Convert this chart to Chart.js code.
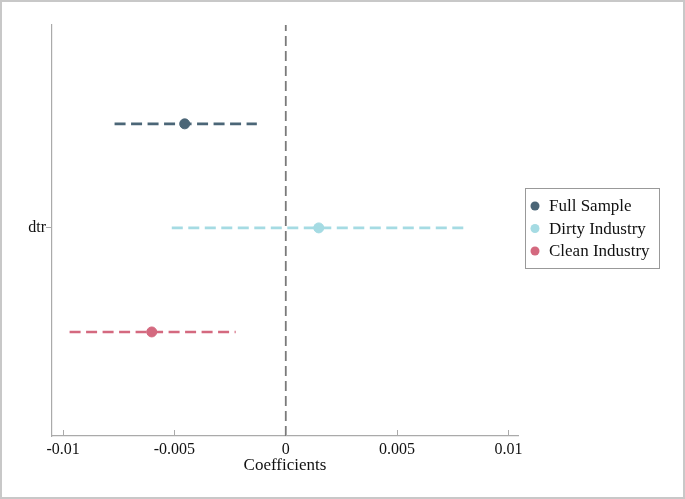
<!DOCTYPE html>
<html>
<head>
<meta charset="utf-8">
<script src="https://cdn.jsdelivr.net/npm/chart.js@4/dist/chart.umd.min.js"></script>
<style>
  body { margin: 0; background: #fff; }
  #wrap { width: 685px; height: 499px; position: relative; }
</style>
</head>
<body>
<div id="wrap"><canvas id="coefChart"></canvas></div>
<script>
// data
var seriesNames = ["Full Sample", "Dirty Industry", "Clean Industry"];
var seriesColors = ["#4b6677", "#a5dbe3", "#d4697f"];
var rowPos = [1, 0, -1];               // vertical slot of each estimate around "dtr"
var coef = [-0.00454, 0.00148, -0.00602];
var ciLow = [-0.00769, -0.00512, -0.00971];
var ciHigh = [-0.00130, 0.00804, -0.00225];
var xTicks = [-0.01, -0.005, 0, 0.005, 0.01];
var xTickLabels = ["-0.01", "-0.005", "0", "0.005", "0.01"];
var yLabel = "dtr";

var serif = "'Liberation Serif', 'DejaVu Serif', serif";

// datasets: dashed CI line + dot for each series
var datasets = [];
// zero reference line
datasets.push({
    type: 'line',
    label: '_zero',
    data: [{ x: 0, y: -2 }, { x: 0, y: 1.95 }],
    borderColor: "#7a7a7a",
    borderWidth: 1.8,
    borderDash: [10, 5],
    pointRadius: 0,
    order: 5
});
for (var i = 0; i < seriesNames.length; i++) {
    datasets.push({
        type: 'line',
        label: '_ci' + i,
        data: [{ x: ciLow[i], y: rowPos[i] }, { x: ciHigh[i], y: rowPos[i] }],
        borderColor: seriesColors[i],
        borderWidth: 2.6,
        borderDash: [11, 5.5],
        pointRadius: 0,
        order: 2
    });
    datasets.push({
        type: 'scatter',
        label: seriesNames[i],
        data: [{ x: coef[i], y: rowPos[i] }],
        backgroundColor: seriesColors[i],
        borderColor: seriesColors[i],
        pointRadius: 5,
        order: 1
    });
}

// legend box, frame and inward x ticks
var extras = {
    id: 'extras',
    afterDraw: function (chart) {
        var c = chart.ctx;
        var xs = chart.scales.x;
        var area = chart.chartArea;
        c.save();
        // outer frame
        c.strokeStyle = "#c8c8c8";
        c.lineWidth = 2;
        c.strokeRect(1, 1, 683, 497);
        // inward tick marks on x axis
        c.strokeStyle = "#aaaaaa";
        c.lineWidth = 1;
        xTicks.forEach(function (v) {
            var px = Math.round(xs.getPixelForValue(v)) + 0.5;
            c.beginPath();
            c.moveTo(px, area.bottom);
            c.lineTo(px, area.bottom - 6);
            c.stroke();
        });
        // legend
        var lx = 525, ly = 188, lw = 134, lh = 80;
        c.fillStyle = "#fff";
        c.fillRect(lx, ly, lw, lh);
        c.strokeStyle = "#999";
        c.lineWidth = 1;
        c.strokeRect(lx + 0.5, ly + 0.5, lw, lh);
        c.font = "17px " + serif;
        c.textBaseline = "middle";
        c.textAlign = "left";
        for (var k = 0; k < seriesNames.length; k++) {
            var yy = ly + 18 + k * 22.5;
            c.fillStyle = seriesColors[k];
            c.beginPath();
            c.arc(lx + 10, yy, 4.5, 0, Math.PI * 2);
            c.fill();
            c.fillStyle = "#111";
            c.fillText(seriesNames[k], lx + 24, yy + 1);
        }
        c.restore();
    }
};

var ctx = document.getElementById("coefChart");
var chart = new Chart(ctx, {
    type: 'scatter',
    data: { datasets: datasets },
    plugins: [extras],
    options: {
        responsive: true,
        maintainAspectRatio: false,
        animation: false,
        layout: { padding: { top: 25, right: 167, bottom: 23, left: 0 } },
        plugins: {
            legend: { display: false },
            tooltip: { enabled: false }
        },
        scales: {
            x: {
                type: 'linear',
                min: -0.0105,
                max: 0.01043,
                afterBuildTicks: function (axis) {
                    axis.ticks = xTicks.map(function (v) { return { value: v }; });
                },
                afterFit: function (axis) { axis.height = 40; },
                ticks: {
                    color: "#111",
                    font: { family: serif, size: 16 },
                    padding: 4,
                    maxRotation: 0,
                    callback: function (v) {
                        var idx = xTicks.indexOf(v);
                        return idx >= 0 ? xTickLabels[idx] : '';
                    }
                },
                grid: { display: false, drawTicks: false },
                border: { display: true, color: "#aaaaaa", width: 1.2 },
                title: {
                    display: true,
                    text: "Coefficients",
                    color: "#111",
                    font: { family: serif, size: 17 },
                    padding: { top: 0, bottom: 0 }
                }
            },
            y: {
                type: 'linear',
                min: -2,
                max: 1.95,
                afterBuildTicks: function (axis) {
                    axis.ticks = [{ value: 0 }];
                },
                afterFit: function (axis) { axis.width = 52; },
                ticks: {
                    color: "#111",
                    font: { family: serif, size: 16 },
                    padding: 0,
                    callback: function () { return yLabel; }
                },
                grid: {
                    drawOnChartArea: false,
                    drawTicks: true,
                    tickLength: 6,
                    color: "#aaaaaa"
                },
                border: { display: true, color: "#aaaaaa", width: 1.2 }
            }
        }
    }
});
</script>
</body>
</html>
